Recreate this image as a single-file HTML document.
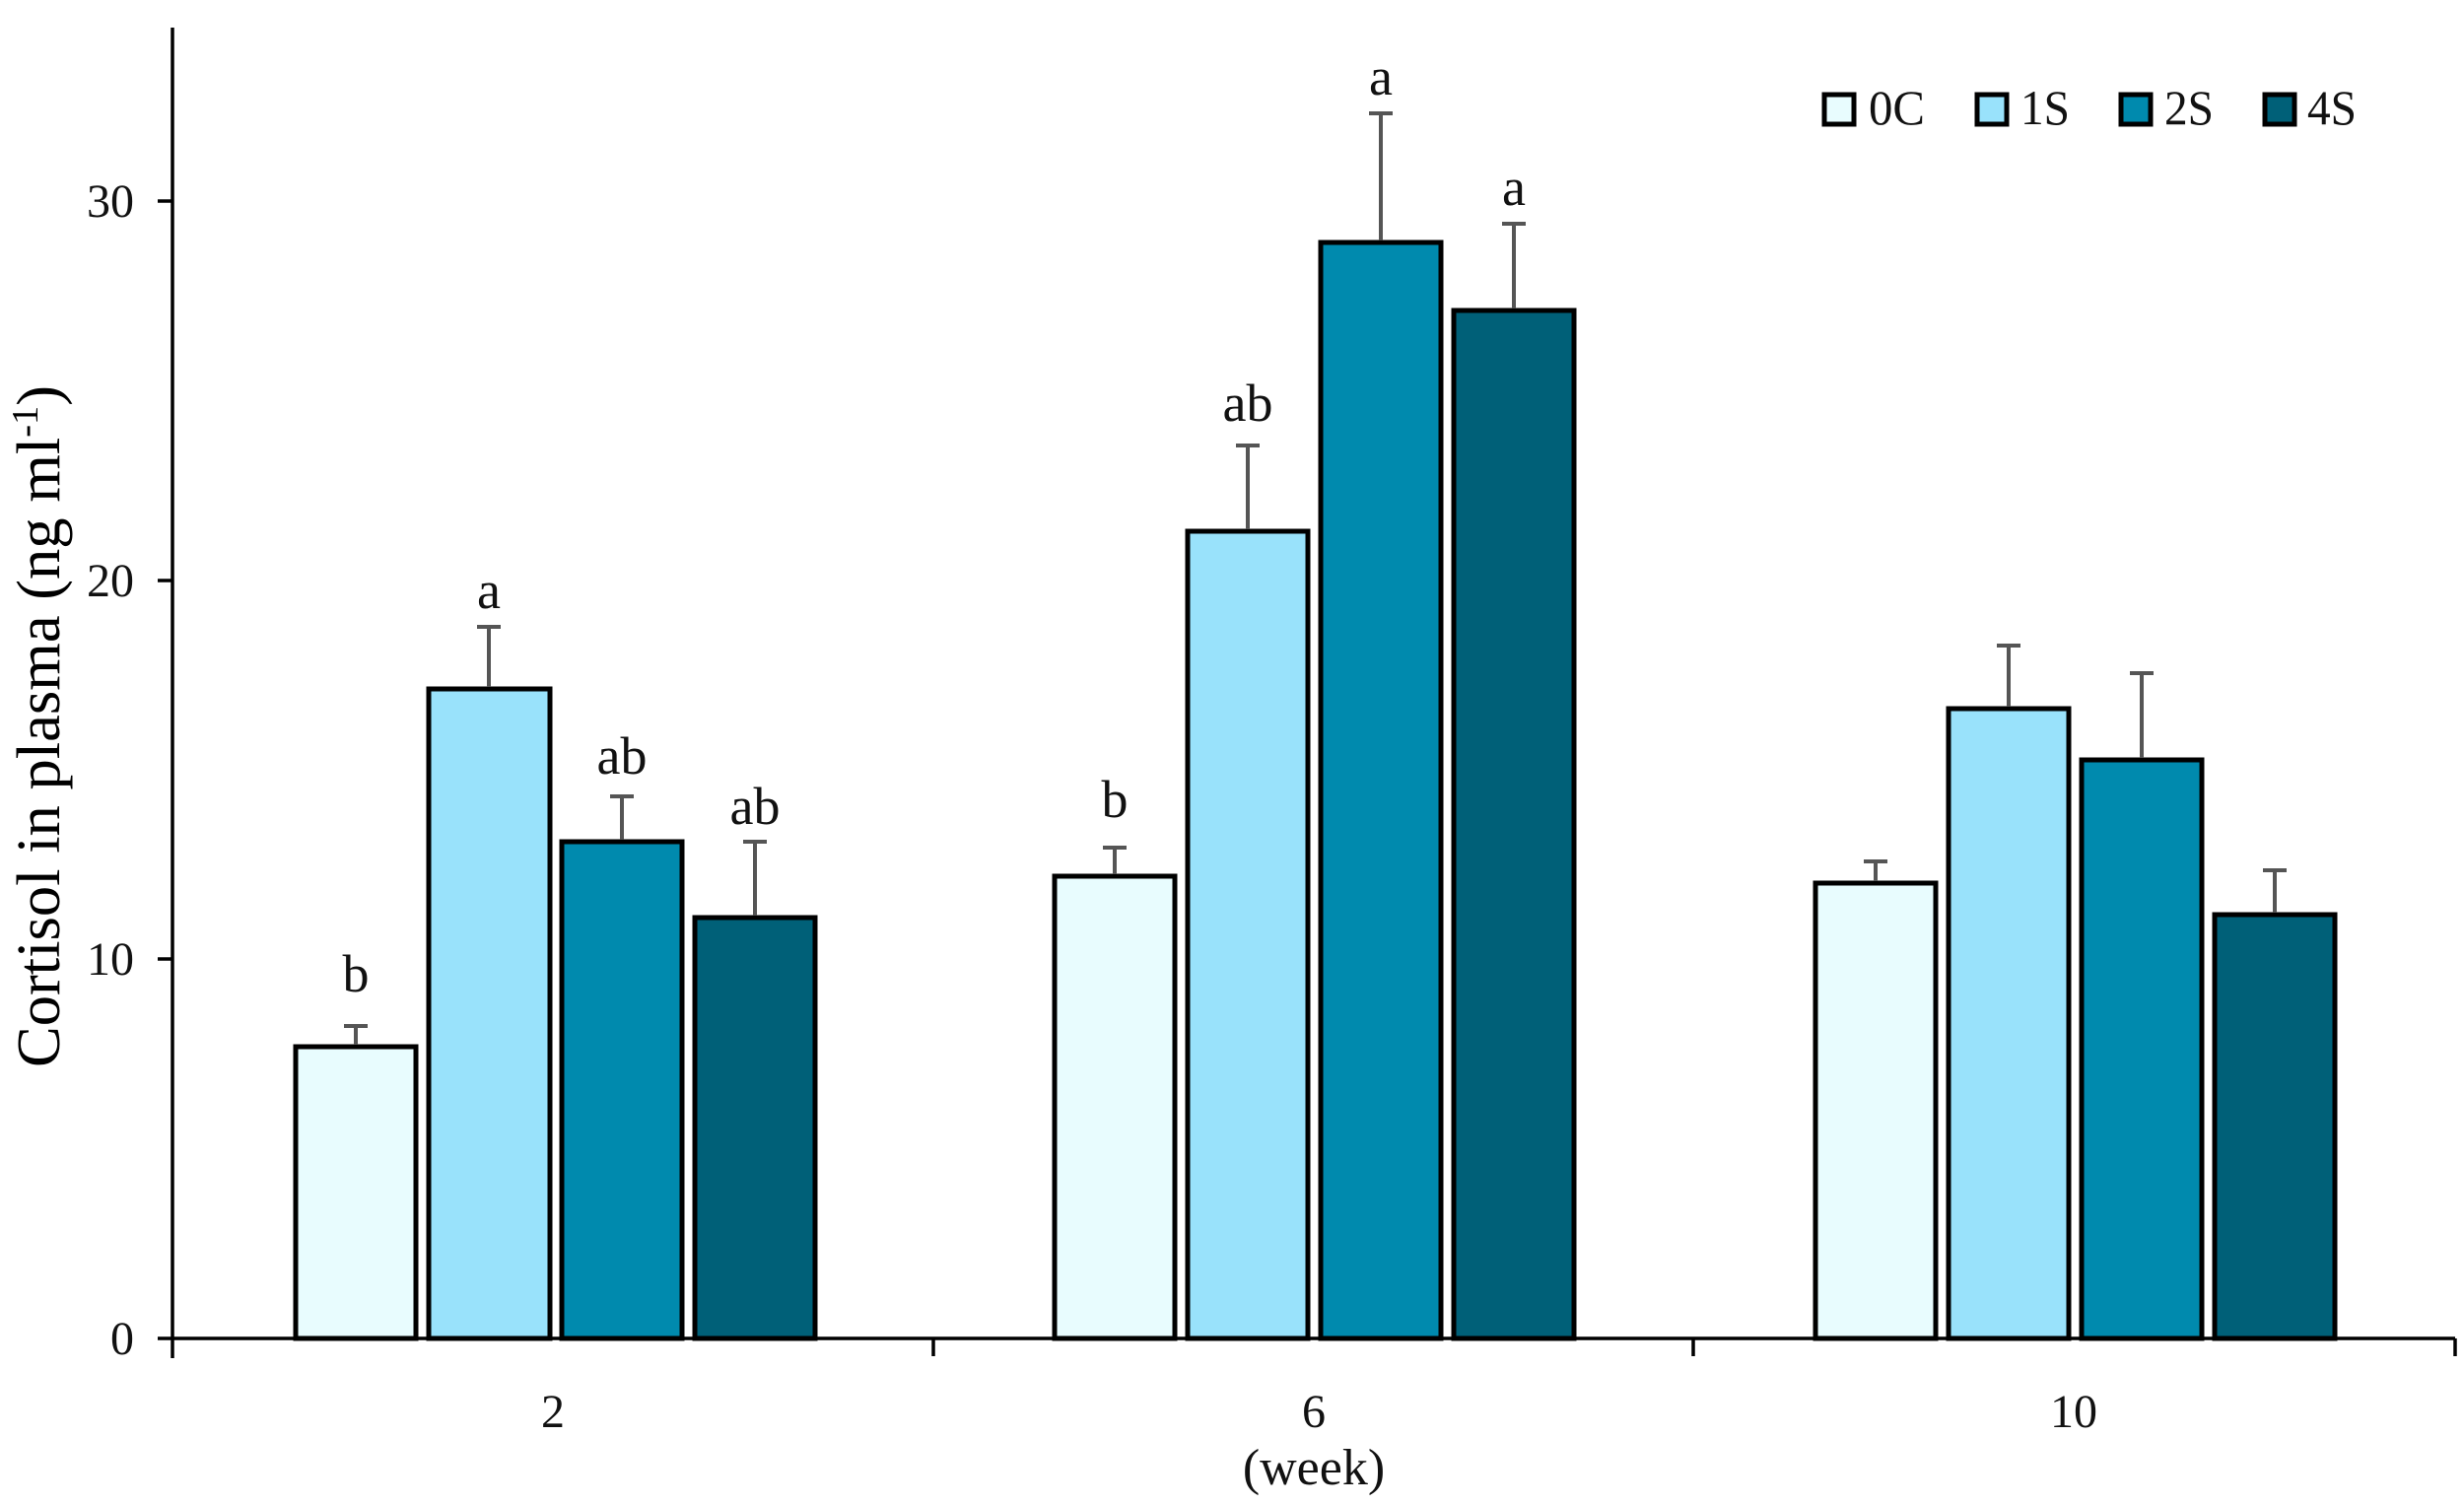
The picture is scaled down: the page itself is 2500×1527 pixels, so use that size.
<!DOCTYPE html>
<html><head><meta charset="utf-8"><style>html,body{margin:0;padding:0;background:#fff}svg{display:block}</style></head>
<body>
<svg width="2500" height="1527" viewBox="0 0 2500 1527" xmlns="http://www.w3.org/2000/svg" font-family="Liberation Serif, serif">
<rect width="2500" height="1527" fill="#fff"/>
<line x1="175" y1="28" x2="175" y2="1378" stroke="#000" stroke-width="3.5"/>
<line x1="175" y1="1358" x2="2491" y2="1358" stroke="#000" stroke-width="3.5"/>
<g stroke="#000" stroke-width="3.5">
<line x1="160" y1="1358" x2="175" y2="1358"/>
<line x1="160" y1="973" x2="175" y2="973"/>
<line x1="160" y1="589" x2="175" y2="589"/>
<line x1="160" y1="204" x2="175" y2="204"/>
<line x1="947" y1="1358" x2="947" y2="1376"/>
<line x1="1718" y1="1358" x2="1718" y2="1376"/>
<line x1="2491" y1="1358" x2="2491" y2="1376"/>
</g>
<g font-size="48" text-anchor="end" fill="#111">
<text x="136" y="1374">0</text>
<text x="136" y="989">10</text>
<text x="136" y="605">20</text>
<text x="136" y="220">30</text>
</g>
<g font-size="48" text-anchor="middle" fill="#111">
<text x="561" y="1448">2</text>
<text x="1333" y="1448">6</text>
<text x="2104" y="1448">10</text>
<text x="1333" y="1506" font-size="52">(week)</text>
</g>
<text transform="translate(60,737) rotate(-90)" text-anchor="middle" font-size="62" textLength="692" lengthAdjust="spacingAndGlyphs">Cortisol in plasma (ng ml<tspan font-size="38" dy="-22">-1</tspan><tspan dy="22">)</tspan></text>
<g stroke="#000" stroke-width="5">
<rect x="300" y="1062" width="122" height="296" fill="#e8fcfe"/>
<rect x="435" y="699" width="123" height="659" fill="#99e2fb"/>
<rect x="570" y="854" width="122" height="504" fill="#008aae"/>
<rect x="705" y="931" width="122" height="427" fill="#006078"/>
<rect x="1070" y="889" width="122" height="469" fill="#e8fcfe"/>
<rect x="1205" y="539" width="122" height="819" fill="#99e2fb"/>
<rect x="1340" y="246" width="122" height="1112" fill="#008aae"/>
<rect x="1475" y="315" width="122" height="1043" fill="#006078"/>
<rect x="1842" y="896" width="122" height="462" fill="#e8fcfe"/>
<rect x="1977" y="719" width="122" height="639" fill="#99e2fb"/>
<rect x="2112" y="771" width="122" height="587" fill="#008aae"/>
<rect x="2247" y="928" width="122" height="430" fill="#006078"/>
</g>
<g stroke="#555" stroke-width="4" fill="none">
<path d="M361 1060V1041M349 1041H373"/>
<path d="M496 697V636M484 636H508"/>
<path d="M631 852V808M619 808H643"/>
<path d="M766 929V854M754 854H778"/>
<path d="M1131 887V860M1119 860H1143"/>
<path d="M1266 537V452M1254 452H1278"/>
<path d="M1401 244V115M1389 115H1413"/>
<path d="M1536 313V227M1524 227H1548"/>
<path d="M1903 894V874M1891 874H1915"/>
<path d="M2038 717V655M2026 655H2050"/>
<path d="M2173 769V683M2161 683H2185"/>
<path d="M2308 926V883M2296 883H2320"/>
</g>
<g font-size="54" text-anchor="middle" fill="#111">
<text x="361" y="1006">b</text>
<text x="496" y="617">a</text>
<text x="631" y="785">ab</text>
<text x="766" y="836">ab</text>
<text x="1131" y="829">b</text>
<text x="1266" y="427">ab</text>
<text x="1401" y="96">a</text>
<text x="1536" y="208">a</text>
</g>
<g stroke="#000" stroke-width="5">
<rect x="1851" y="96" width="30" height="30" fill="#e8fcfe"/>
<rect x="2006" y="96" width="30" height="30" fill="#99e2fb"/>
<rect x="2152" y="96" width="30" height="30" fill="#008aae"/>
<rect x="2298" y="96" width="30" height="30" fill="#006078"/>
</g>
<g font-size="50" fill="#111">
<text x="1896" y="126" textLength="57" lengthAdjust="spacingAndGlyphs">0C</text>
<text x="2050" y="126" textLength="50" lengthAdjust="spacingAndGlyphs">1S</text>
<text x="2196" y="126" textLength="50" lengthAdjust="spacingAndGlyphs">2S</text>
<text x="2341" y="126" textLength="50" lengthAdjust="spacingAndGlyphs">4S</text>
</g>
</svg>
</body></html>
